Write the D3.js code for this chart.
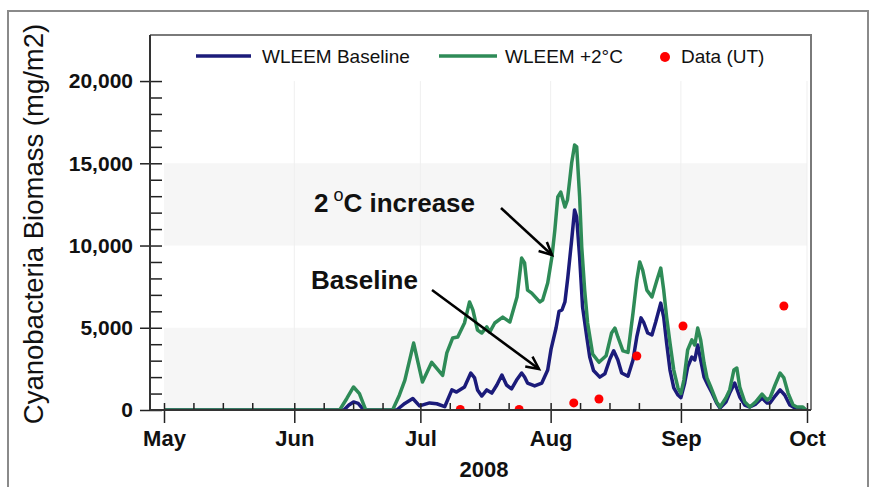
<!DOCTYPE html>
<html><head><meta charset="utf-8">
<script src="https://cdn.jsdelivr.net/npm/d3@7"></script>
<style>
html,body{margin:0;padding:0;background:#fff;}
svg{display:block;font-family:"Liberation Sans",Arial,sans-serif;}
</style></head>
<body><svg id="c" width="872" height="487"></svg>
<script>
// ---- data (days since 1 May 2008, biomass mg/m2) ----
const seasonStart = "2008-05-01";
const greenDays = [0,41.8,43.5,45.1,46.5,48,54.4,56,57.3,59.4,61.5,63.7,66.3,67.3,68.7,69.9,71.5,72.7,73.5,74.6,75.6,76.8,77.5,78.7,80.6,82.3,84,85.1,85.8,86.5,87.5,89.4,90.1,91.3,92.3,93,93.7,94.4,95.4,96,97,97.7,98.2,98.9,99.4,100.1,100.8,102,103.5,105.2,106.5,107.3,108,109.2,110.4,111.6,112.5,113.2,113.9,114.9,116.1,117.3,118.2,118.9,119.6,120.4,121.3,122.3,123,123.7,124.6,125.6,126.3,127,127.7,128.5,129.2,130.1,131.5,132.3,133.7,134.6,135.6,136.3,137,138.2,139.4,140.8,142.3,143.5,144.2,145.4,146.6,147.5,148.5,149.7,150.6,152,152.7];
const greenValues = [0,0,700,1400,1000,0,0,900,1800,4070,1700,2900,2100,3470,4380,4440,5290,6570,6080,4860,4680,5050,4740,5290,5650,5350,6870,9240,8940,7290,7110,6570,6690,7720,9300,10940,12950,13250,12340,12770,15020,16110,16000,12950,9910,7290,5290,3400,2900,3300,4680,4980,4440,3600,3500,5900,7900,9000,8510,7290,6870,7900,8630,7290,5650,4070,2430,1340,1000,1820,3650,4260,3950,4980,4260,2860,1950,1400,490,180,730,1220,2430,2550,1400,490,180,490,970,610,730,1520,2250,1950,1030,300,180,180,0];
const blueDays = [0,42.8,44,45.1,46.2,47.2,48,55.4,56.1,57.3,59.2,60.8,63.2,64.9,66.8,68.5,69.6,71.5,73,73.9,74.6,75.6,76.8,78,79.2,80.4,81.5,82.7,83.9,85.1,85.8,86.5,88.2,89.9,91.3,92.1,93.3,94,94.7,95.4,96.1,97,97.7,98.2,98.9,99.6,100.6,101.3,102.2,103.7,104.9,106.1,107,108,108.9,110.4,111.6,112.5,113.5,114.2,115.1,116.1,117,118.2,118.9,119.6,120.4,121.3,122.3,123,123.9,124.6,125.6,126.3,127,127.7,128.5,129.4,130.4,131.5,132.3,133.7,134.6,135.8,137,138.2,139.4,140.8,142.3,143.5,144.2,145.4,146.6,147.7,148.9,150.1,152,152.7];
const blueValues = [0,0,300,490,400,100,0,0,150,400,700,250,430,380,200,1220,1090,1400,2250,1950,1220,850,1220,1030,1520,2130,1520,1280,1820,2250,2010,1640,1460,1640,2430,3700,5000,6000,6080,6570,8090,10330,12160,11730,9300,6260,4440,3220,2400,2000,2200,3100,3600,3040,2250,2050,3040,4440,5600,5290,4680,4560,5350,6500,5650,4070,2430,1340,910,750,1640,2610,3220,3040,3950,3040,2010,1520,1030,430,120,490,1030,1640,790,300,180,360,730,430,430,850,1220,910,300,120,120,0];
const obsDates = ["2008-07-10","2008-07-24","2008-08-06","2008-08-12","2008-08-21","2008-09-01","2008-09-25"];
const obsValues = [30,30,430,670,3280,5110,6320];
const yMajorTicks = [0,5000,10000,15000,20000];
const monthTicks = ["2008-05-01","2008-06-01","2008-07-01","2008-08-01","2008-09-01","2008-10-01"];
const monthLabels = ["May","Jun","Jul","Aug","Sep","Oct"];
const minorTickDays = [8,15,22];
const seriesNames = ["WLEEM Baseline","WLEEM +2°C","Data (UT)"];
const yearLabel = "2008";
const yTitle = "Cyanobacteria Biomass (mg/m2)";

// ---- helpers ----
const parse = s => { const [y,m,d] = s.split("-").map(Number); return new Date(y, m-1, d); };
const t0 = parse(seasonStart);
const fromDays = d => new Date(t0.getTime() + d*864e5);

const svg = d3.select("#c");
const frame = {l:150, t:35, r:811, b:410};

const x = d3.scaleTime().domain([parse(monthTicks[0]), parse(monthTicks[5])]).range([164, 807]);
const y = d3.scaleLinear().domain([0, 22800]).range([frame.b, frame.t]);

// outer border
svg.append("rect").attr("x",8).attr("y",11).attr("width",860).attr("height",490)
  .attr("fill","#fff").attr("stroke","#8a8a8a").attr("stroke-width",2);

// background bands
const bands = [[0,5000],[10000,15000]];
svg.append("g").selectAll("rect").data(bands).join("rect")
  .attr("x", x(parse(monthTicks[0]))).attr("width", x(parse(monthTicks[5])) - x(parse(monthTicks[0])))
  .attr("y", d => y(d[1])).attr("height", d => y(d[0]) - y(d[1]))
  .attr("fill","#f6f6f6");
// faint vertical month grid
svg.append("g").selectAll("line").data(monthTicks.slice(1)).join("line")
  .attr("x1", d => x(parse(d))).attr("x2", d => x(parse(d)))
  .attr("y1", y(20000)).attr("y2", frame.b)
  .attr("stroke","#efefef").attr("stroke-width",1);

// clip
svg.append("clipPath").attr("id","pc").append("rect")
  .attr("x",frame.l).attr("y",frame.t).attr("width",frame.r-frame.l).attr("height",frame.b-frame.t);

const line = d3.line().x(d => x(d[0])).y(d => y(d[1]));
const blueData = blueDays.map((d,i) => [fromDays(d), blueValues[i]]);
const greenData = greenDays.map((d,i) => [fromDays(d), greenValues[i]]);
const plot = svg.append("g").attr("clip-path","url(#pc)");
plot.append("path").datum(blueData).attr("d", line)
  .attr("fill","none").attr("stroke","#1b1b7a").attr("stroke-width",3.5).attr("stroke-linejoin","round");
plot.append("path").datum(greenData).attr("d", line)
  .attr("fill","none").attr("stroke","#2e8b57").attr("stroke-width",3.5).attr("stroke-linejoin","round");
plot.selectAll("circle").data(obsDates.map((d,i)=>[parse(d), obsValues[i]])).join("circle")
  .attr("cx", d => x(d[0]) + x(fromDays(0.5)) - x(fromDays(0)))
  .attr("cy", d => y(d[1])).attr("r",4.5).attr("fill","#ff0000");

// frame (top & right)
svg.append("path").attr("d", `M${frame.l},${frame.t}H${frame.r}V${frame.b}`)
  .attr("fill","none").attr("stroke","#7a7a7a").attr("stroke-width",2);

const fontTick = "bold 21px 'Liberation Sans', Arial, sans-serif";

// y axis
const yAxis = svg.append("g").attr("transform",`translate(${frame.l},0)`)
  .call(d3.axisLeft(y).tickValues(yMajorTicks).tickFormat(d3.format(",")).tickSize(10).tickPadding(7));
yAxis.select(".domain").remove();
yAxis.selectAll(".tick line").attr("x1",12).attr("stroke","#222").attr("stroke-width",1.5);
yAxis.selectAll(".tick text").style("font", fontTick).attr("fill","#111");
const yMinor = d3.range(1000, 20000, 1000).filter(v => v % 5000 !== 0);
const yAxisMinor = svg.append("g").attr("transform",`translate(${frame.l},0)`)
  .call(d3.axisLeft(y).tickValues(yMinor).tickSize(-12).tickFormat(""));
yAxisMinor.select(".domain").remove();
yAxisMinor.selectAll(".tick line").attr("stroke","#222").attr("stroke-width",1.5);
svg.append("line").attr("x1",frame.l).attr("x2",frame.l).attr("y1",frame.t).attr("y2",frame.b)
  .attr("stroke","#333").attr("stroke-width",2);

// x axis
const xAxis = svg.append("g").attr("transform",`translate(0,${frame.b})`)
  .call(d3.axisBottom(x).tickValues(monthTicks.map(parse)).tickFormat((d,i)=>monthLabels[i]).tickSize(13).tickPadding(7));
xAxis.select(".domain").remove();
xAxis.selectAll(".tick line").attr("y1",-7).attr("stroke","#222").attr("stroke-width",1.5);
xAxis.selectAll(".tick text").style("font", "bold 22px 'Liberation Sans', Arial, sans-serif").attr("fill","#111");
const xMinor = [];
monthTicks.slice(0,5).forEach(m => { const dt = parse(m); minorTickDays.forEach(dd => xMinor.push(new Date(dt.getFullYear(), dt.getMonth(), dd))); });
const xAxisMinor = svg.append("g").attr("transform",`translate(0,${frame.b})`)
  .call(d3.axisBottom(x).tickValues(xMinor).tickSize(-7).tickFormat(""));
xAxisMinor.select(".domain").remove();
xAxisMinor.selectAll(".tick line").attr("stroke","#222").attr("stroke-width",1.5);
svg.append("line").attr("x1",frame.l).attr("x2",frame.r).attr("y1",frame.b).attr("y2",frame.b)
  .attr("stroke","#333").attr("stroke-width",2);

// axis titles
svg.append("text").attr("x",484).attr("y",477).attr("text-anchor","middle")
  .style("font","bold 22px 'Liberation Sans', Arial, sans-serif").attr("fill","#111").text(yearLabel);
svg.append("text").attr("transform","translate(43,224) rotate(-90)").attr("text-anchor","middle")
  .style("font","27.5px 'Liberation Sans', Arial, sans-serif").attr("fill","#111").text(yTitle);

// legend
const lg = svg.append("g").style("font","19px 'Liberation Sans', Arial, sans-serif");
const legendItems = [
  {x0:196, x1:251, tx:262, color:"#1b1b7a", type:"line", label:seriesNames[0]},
  {x0:439, x1:497, tx:505, color:"#2e8b57", type:"line", label:seriesNames[1]},
  {x0:665, x1:665, tx:681, color:"#ff0000", type:"dot", label:seriesNames[2]}
];
legendItems.forEach(it => {
  if (it.type === "line") lg.append("line").attr("x1",it.x0).attr("x2",it.x1).attr("y1",56).attr("y2",56)
      .attr("stroke",it.color).attr("stroke-width",3.5);
  else lg.append("circle").attr("cx",it.x0).attr("cy",57).attr("r",5).attr("fill",it.color);
  lg.append("text").attr("x",it.tx).attr("y",63).attr("fill","#111").text(it.label);
});

// annotations
const ann = svg.append("g").style("font","bold 26px 'Liberation Sans', Arial, sans-serif").attr("fill","#111");
const t1 = ann.append("text").attr("x",314).attr("y",212);
t1.append("tspan").text("2");
t1.append("tspan").attr("dx",5).attr("dy",-11).style("font","18px 'Liberation Sans', Arial, sans-serif").text("o");
t1.append("tspan").attr("dy",11).text("C increase");
ann.append("text").attr("x",311).attr("y",289).text("Baseline");

function arrow(x1,y1,x2,y2){
  const g = svg.append("g").attr("stroke","#000").attr("stroke-width",2.5).attr("fill","none");
  g.append("line").attr("x1",x1).attr("y1",y1).attr("x2",x2).attr("y2",y2);
  const a = Math.atan2(y2-y1, x2-x1), L = 14, s = 0.45;
  g.append("path").attr("d",
    `M${x2-L*Math.cos(a-s)},${y2-L*Math.sin(a-s)}L${x2},${y2}L${x2-L*Math.cos(a+s)},${y2-L*Math.sin(a+s)}`)
    .attr("stroke-linejoin","miter");
}
arrow(501,208,552,255);
arrow(432,290,539,369);
</script></body></html>
